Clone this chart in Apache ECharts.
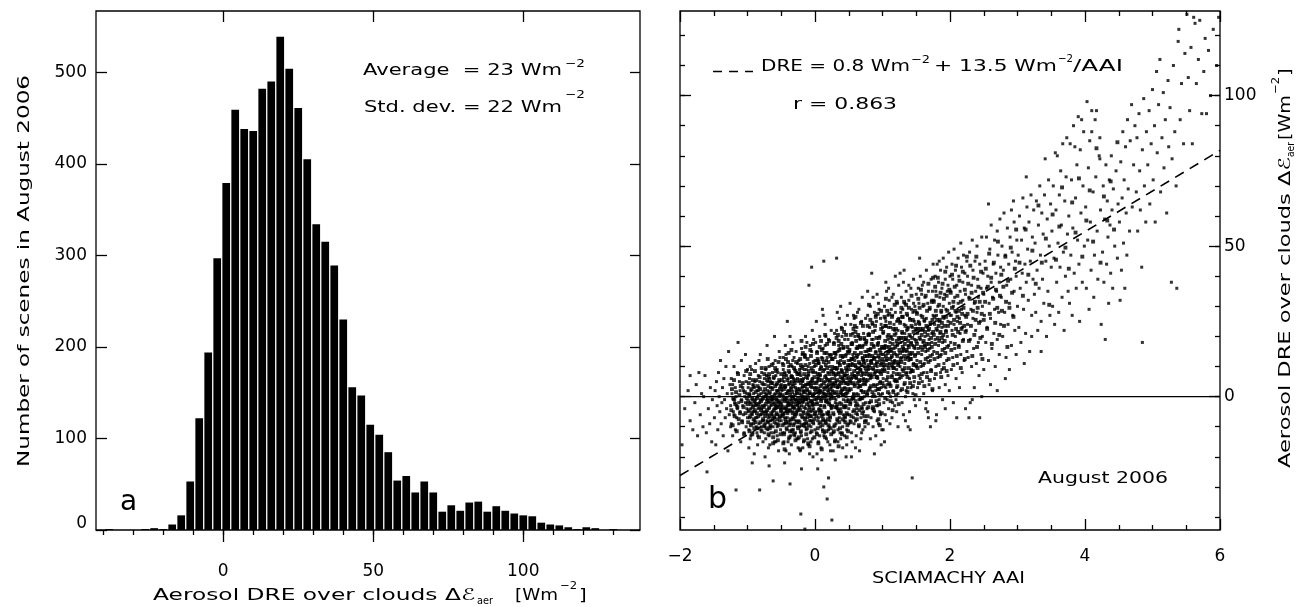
<!DOCTYPE html>
<html><head><meta charset="utf-8">
<script src="https://cdn.jsdelivr.net/npm/echarts@6.0.0/dist/echarts.min.js"></script>
<style>html,body{margin:0;padding:0;background:#fff}#c{width:1297px;height:607px}</style>
</head><body><div id="c"></div>
<script>
// ---------------- DATA ----------------
const histBinCenters = [-38,-35,-32,-29,-26,-23,-20,-17,-14,-11,-8,-5,-2,1,4,7,10,13,16,19,22,25,28,31,34,37,40,43,46,49,52,55,58,61,64,67,70,73,76,79,82,85,88,91,94,97,100,103,106,109,112,115,118,121,124,127,130];
const histCounts = [1,0,0,0,1,2,1,6,16,53,122,194,297,379,459,438,436,482,490,539,504,461,405,334,315,289,230,156,147,115,104,85,54,59,41,53,41,20,27,21,30,31,20,26,21,18,16,15,8,6,5,3,1,3,2,0,1];
const histBinWidth = 3;
const histXMajorTicks = [0,50,100];
const histXMinorTicks = [-40,-30,-20,-10,0,10,20,30,40,50,60,70,80,90,100,110,120,130];
const histYTicks = [0,100,200,300,400,500];
const scatXTicks = [-2,0,2,4,6];
const scatYMajorTicks = [0,50,100];
const scatYMinorTicks = [-40,-30,-20,-10,0,10,20,30,40,50,60,70,80,90,100,110,120];
const fitLine = [[-2,-26.2],[6,81.8]];
const zeroLine = [[-2,0],[6,0]];

const scatA = [
[-1.97,-16],[-1.93,-4],[-1.88,2],[-1.85,7],[-1.85,-8],[-1.81,-11],[-1.78,-2],[-1.76,4],
[-1.74,-13],[-1.72,8],[-1.7,-6],[-1.68,1],[-1.66,-10],[-1.65,0],[-1.63,7],[-1.61,-12],[-1.6,-25],[-1.58,-4],[-1.56,-9],[-1.55,3],[-1.53,-15],[-1.52,-1],
[-1.49,-7],[-1.48,2],[-1.47,-16],[-1.46,5],[-1.45,-3],[-1.44,-11],[-1.43,8],[-1.42,0],[-1.41,-5],[-1.4,12],[-1.39,-9],[-1.38,-2],[-1.37,3],[-1.36,-13],[-1.35,6],[-1.34,-1],[-1.33,-7],[-1.32,10],[-1.31,-4],[-1.3,1],[-1.29,-18],[-1.28,15],[-1.27,-6],[-1.26,4],[-1.25,-10],
[-1.25,-3],[-1.24,6],[-1.24,-9],[-1.23,1],[-1.22,-13],[-1.22,4],[-1.21,-1],[-1.2,-6],[-1.2,10],[-1.19,-2],[-1.18,-11],[-1.18,3],[-1.17,-31],[-1.17,0],[-1.16,-7],[-1.15,8],[-1.15,-4],[-1.14,18],[-1.13,-2],[-1.13,-9],[-1.12,5],[-1.11,-5],[-1.11,2],[-1.1,-15],[-1.09,-1],[-1.09,12],[-1.08,-8],[-1.07,-3],[-1.07,3],[-1.06,-6],[-1.05,7],[-1.05,-12],[-1.04,0],[-1.03,-2],[-1.03,14],[-1.02,-10],[-1.02,5],[-1.01,-4],[-1.01,1],[-1.0,-7],[-1.0,9],[-1.06,2],[-1.16,-3],[-1.19,-1],[-1.21,-5],
[-0.99,-5],[-0.99,3],[-0.98,-11],[-0.98,0],[-0.97,-7],[-0.97,6],[-0.96,-2],[-0.96,-14],[-0.95,2],[-0.95,-4],[-0.94,-9],[-0.94,9],[-0.93,-1],[-0.93,-6],[-0.92,4],[-0.92,-12],[-0.91,-3],[-0.91,1],[-0.9,-8],[-0.9,-19],[-0.89,5],[-0.89,-5],[-0.88,-1],[-0.88,11],[-0.87,-10],[-0.87,-3],[-0.86,2],[-0.86,-7],[-0.85,-13],[-0.85,0],[-0.84,7],[-0.84,-4],[-0.83,-9],[-0.83,3],[-0.82,-2],[-0.82,-31],[-0.81,-6],[-0.81,14],[-0.8,-11],[-0.8,1],[-0.79,-4],[-0.79,8],[-0.78,-8],[-0.78,-1],[-0.77,4],[-0.77,-15],[-0.76,-5],[-0.76,0],[-0.75,-10],[-0.75,6],[-0.98,-17],[-0.96,10],[-0.93,-22],[-0.91,-9],[-0.89,-2],[-0.86,-12],[-0.84,2],[-0.82,5],[-0.8,-6],[-0.78,-3],[-0.76,-8],[-0.97,1],[-0.95,-13],[-0.92,-5],[-0.9,3],[-0.88,-7],[-0.85,-16],[-0.83,12],[-0.81,-1],[-0.79,-10],
[-0.75,-3],[-0.74,4],[-0.74,-9],[-0.73,0],[-0.73,-14],[-0.72,7],[-0.72,-5],[-0.71,-1],[-0.71,17],[-0.7,-11],[-0.7,2],[-0.69,-7],[-0.69,-2],[-0.68,10],[-0.68,-4],[-0.67,-16],[-0.67,1],[-0.66,-8],[-0.66,5],[-0.65,-3],[-0.65,-12],[-0.64,3],[-0.64,-6],[-0.63,8],[-0.63,0],[-0.62,-10],[-0.62,-28],[-0.61,-2],[-0.61,6],[-0.6,-7],[-0.6,-15],[-0.59,1],[-0.59,12],[-0.58,-4],[-0.58,-9],[-0.57,4],[-0.57,-1],[-0.56,-13],[-0.56,9],[-0.55,-6],[-0.55,2],[-0.54,-3],[-0.54,-18],[-0.53,5],[-0.53,-8],[-0.52,0],[-0.52,13],[-0.51,-11],[-0.51,-5],[-0.5,3],[-0.5,-2],[-0.74,-20],[-0.72,1],[-0.7,-6],[-0.68,-13],[-0.66,3],[-0.64,-1],[-0.62,11],[-0.6,-4],[-0.58,7],[-0.56,-10],[-0.54,-2],[-0.52,-7],[-0.73,9],[-0.71,-8],[-0.69,-17],[-0.67,6],[-0.65,0],[-0.63,-5],[-0.61,-12],[-0.59,-3],[-0.57,2],[-0.55,-9],[-0.53,15],[-0.51,1],[-0.75,-12],[-0.7,5],[-0.66,-10],[-0.62,-1],[-0.58,-15],[-0.55,8],[-0.51,-4],[-0.68,-23],[-0.6,20],[-0.57,-6]
];
const scatB = [
[-0.5,-8],[-0.49,2],[-0.49,-3],[-0.48,11],[-0.48,-12],[-0.47,0],[-0.47,-6],[-0.46,5],[-0.46,-15],[-0.45,-1],[-0.45,8],[-0.44,-9],[-0.44,3],[-0.43,-4],[-0.43,14],[-0.42,-11],[-0.42,1],[-0.41,25],[-0.41,-7],[-0.4,6],[-0.4,-2],[-0.39,-14],[-0.39,10],[-0.38,-5],[-0.38,2],[-0.37,20],[-0.37,-29],[-0.36,-1],[-0.36,-9],[-0.35,7],[-0.35,-16],[-0.34,4],[-0.34,-3],[-0.33,12],[-0.33,-7],[-0.32,0],[-0.32,-11],[-0.31,5],[-0.31,-4],[-0.3,9],[-0.3,-13],[-0.29,-1],[-0.29,3],[-0.28,-8],[-0.28,15],[-0.27,-5],[-0.27,1],[-0.26,-10],[-0.26,6],[-0.25,-2],[-0.25,-17],[-0.49,-6],[-0.47,9],[-0.45,-12],[-0.43,1],[-0.41,-3],[-0.39,4],[-0.37,-8],[-0.35,0],[-0.33,-5],[-0.31,13],[-0.29,-12],[-0.27,8],[-0.48,-1],[-0.46,-9],[-0.44,17],[-0.42,-5],[-0.4,-15],[-0.38,8],[-0.36,3],[-0.34,-11],[-0.32,6],[-0.3,-6],[-0.28,2],[-0.26,-3],[-0.5,4],[-0.46,-4],[-0.42,7],[-0.38,-19],[-0.34,10],[-0.3,-1],[-0.26,11],[-0.44,-7],[-0.4,2],[-0.36,-13],[-0.32,-2],[-0.28,-6],[-0.47,13],[-0.43,-18],[-0.39,-3],[-0.35,5],[-0.31,-9],[-0.27,-14],[-0.45,-22],[-0.33,18],
[-0.25,5],[-0.24,-4],[-0.24,12],[-0.23,-10],[-0.23,1],[-0.22,-6],[-0.22,8],[-0.21,-39],[-0.21,-1],[-0.2,16],[-0.2,-13],[-0.19,3],[-0.19,-7],[-0.18,10],[-0.18,-2],[-0.17,-15],[-0.17,6],[-0.16,0],[-0.16,-9],[-0.15,-44],[-0.15,14],[-0.14,-4],[-0.14,4],[-0.13,-11],[-0.13,9],[-0.12,-1],[-0.12,18],[-0.11,-7],[-0.11,2],[-0.1,-16],[-0.1,7],[-0.09,-3],[-0.09,37],[-0.08,11],[-0.08,-8],[-0.07,1],[-0.07,-12],[-0.06,5],[-0.06,-5],[-0.05,43],[-0.05,15],[-0.04,-2],[-0.04,-14],[-0.03,8],[-0.03,0],[-0.02,-9],[-0.02,19],[-0.01,3],[-0.01,-6],[0,12],[0,-11],[-0.24,-8],[-0.22,2],[-0.2,-3],[-0.18,-17],[-0.16,9],[-0.14,-7],[-0.12,4],[-0.1,-2],[-0.08,1],[-0.06,-10],[-0.04,6],[-0.02,-4],[-0.23,9],[-0.21,-12],[-0.19,0],[-0.17,-5],[-0.15,13],[-0.13,-1],[-0.11,-14],[-0.09,4],[-0.07,17],[-0.05,-8],[-0.03,-3],[-0.01,10],[-0.25,-14],[-0.21,7],[-0.17,2],[-0.13,-9],[-0.09,-6],[-0.05,3],[-0.01,-1],[-0.22,-18],[-0.18,5],[-0.14,20],[-0.1,10],[-0.06,-15],[-0.02,1],[-0.2,-24],[-0.16,-1],[-0.12,-6],[-0.08,-19],[-0.04,22],[-0.23,-2],[-0.19,14],[-0.11,6],[-0.07,-8],[-0.03,-20],[-0.15,-10],
[0.01,-5],[0.01,8],[0.02,-12],[0.02,3],[0.03,15],[0.03,-2],[0.04,-8],[0.04,6],[0.05,-15],[0.05,0],[0.06,11],[0.06,-4],[0.07,20],[0.07,2],[0.08,-10],[0.08,7],[0.09,-1],[0.09,-17],[0.1,13],[0.1,4],[0.11,29],[0.11,-6],[0.12,27],[0.12,1],[0.13,45],[0.13,-30],[0.13,-13],[0.14,9],[0.14,-3],[0.15,17],[0.15,5],[0.16,-9],[0.16,0],[0.17,12],[0.17,-14],[0.18,-34],[0.18,3],[0.19,-6],[0.19,8],[0.2,-11],[0.2,19],[0.21,-2],[0.21,5],[0.22,-16],[0.22,10],[0.23,1],[0.23,-7],[0.24,14],[0.24,-4],[0.25,-41],[0.25,6],[0.02,-1],[0.04,12],[0.06,-9],[0.08,2],[0.1,-5],[0.12,16],[0.14,-12],[0.16,7],[0.18,-2],[0.2,4],[0.22,-8],[0.24,22],[0.03,5],[0.05,-7],[0.07,-13],[0.09,10],[0.11,0],[0.13,3],[0.15,-8],[0.17,6],[0.19,-15],[0.21,14],[0.23,-3],[0.25,9],[0.01,18],[0.05,11],[0.09,-3],[0.13,-6],[0.17,-1],[0.21,-10],[0.25,0],[0.03,-19],[0.07,9],[0.11,-11],[0.15,24],[0.19,2],[0.23,-18],[0.04,-24],[0.08,-3],[0.12,-8],[0.16,20],[0.2,-5],[0.24,3],[0.06,1],[0.1,-21],[0.14,1],[0.18,13],[0.22,-1],[0.02,25],[0.2,-27],
[0.26,-3],[0.26,10],[0.27,-12],[0.27,4],[0.28,18],[0.28,-6],[0.29,1],[0.29,-15],[0.3,13],[0.3,7],[0.31,-1],[0.31,-9],[0.32,46],[0.32,22],[0.33,3],[0.33,-4],[0.34,15],[0.34,-11],[0.35,8],[0.35,0],[0.36,-7],[0.36,26],[0.37,5],[0.37,-2],[0.38,12],[0.38,-14],[0.39,9],[0.39,-5],[0.4,20],[0.4,2],[0.41,-10],[0.41,6],[0.42,16],[0.42,-1],[0.43,-8],[0.43,11],[0.44,3],[0.44,-13],[0.45,24],[0.45,7],[0.46,-3],[0.46,14],[0.47,-16],[0.47,1],[0.48,9],[0.48,-6],[0.49,19],[0.49,4],[0.5,-9],[0.5,10],[0.27,8],[0.29,21],[0.31,5],[0.33,-8],[0.35,17],[0.37,-12],[0.39,1],[0.41,13],[0.43,-3],[0.45,-7],[0.47,6],[0.49,-1],[0.26,2],[0.28,-10],[0.3,-2],[0.32,9],[0.34,3],[0.36,11],[0.38,-4],[0.4,-12],[0.42,5],[0.44,19],[0.46,0],[0.48,15],[0.5,-4],[0.27,-18],[0.31,14],[0.35,-5],[0.39,23],[0.43,7],[0.47,-11],[0.29,6],[0.33,28],[0.37,16],[0.41,-17],[0.45,1],[0.49,12],[0.3,-21],[0.36,4],[0.42,-6],[0.48,27],[0.34,-15],[0.4,8],[0.46,-20],[0.38,30]
];
const scatC = [
[0.51,2],[0.51,15],[0.52,-8],[0.52,9],[0.53,24],[0.53,-2],[0.54,6],[0.54,-12],[0.55,18],[0.55,11],[0.56,0],[0.56,-5],[0.57,27],[0.57,13],[0.58,4],[0.58,-9],[0.59,20],[0.59,7],[0.6,-3],[0.6,10],[0.61,-13],[0.61,16],[0.62,1],[0.62,23],[0.63,8],[0.63,-6],[0.64,14],[0.64,3],[0.65,-10],[0.65,29],[0.66,11],[0.66,5],[0.67,-1],[0.67,19],[0.68,-7],[0.68,9],[0.69,25],[0.69,2],[0.7,-4],[0.7,13],[0.71,17],[0.71,-11],[0.72,6],[0.72,21],[0.73,0],[0.73,10],[0.74,-8],[0.74,15],[0.75,4],[0.75,26],[0.52,12],[0.54,-1],[0.56,21],[0.58,7],[0.6,-8],[0.62,13],[0.64,-3],[0.66,17],[0.68,2],[0.7,8],[0.72,-5],[0.74,11],[0.51,-6],[0.53,5],[0.55,-15],[0.57,1],[0.59,12],[0.61,6],[0.63,28],[0.65,-1],[0.67,9],[0.69,-12],[0.71,4],[0.73,19],[0.75,-2],[0.52,31],[0.56,14],[0.6,-17],[0.64,20],[0.68,-14],[0.72,12],[0.54,-20],[0.58,26],[0.62,-4],[0.66,-18],[0.7,33],[0.74,-10],[0.57,-7],[0.63,16],[0.69,7],
[0.76,5],[0.76,18],[0.77,-4],[0.77,12],[0.78,27],[0.78,1],[0.79,9],[0.79,-9],[0.8,21],[0.8,14],[0.81,3],[0.81,-2],[0.82,30],[0.82,16],[0.83,7],[0.83,-7],[0.84,41],[0.84,11],[0.85,24],[0.85,0],[0.86,-10],[0.86,19],[0.87,4],[0.87,13],[0.88,28],[0.88,-5],[0.89,8],[0.89,22],[0.9,15],[0.9,2],[0.91,-3],[0.91,25],[0.92,10],[0.92,-8],[0.93,17],[0.93,6],[0.94,31],[0.94,1],[0.95,13],[0.95,-1],[0.96,20],[0.96,8],[0.97,-6],[0.97,26],[0.98,11],[0.98,3],[0.99,16],[0.99,-11],[1.0,23],[1.0,9],[0.77,15],[0.79,2],[0.81,23],[0.83,12],[0.85,-4],[0.87,17],[0.89,0],[0.91,11],[0.93,-3],[0.95,29],[0.97,5],[0.99,14],[0.76,-8],[0.78,10],[0.8,-2],[0.82,6],[0.84,19],[0.86,33],[0.88,13],[0.9,-13],[0.92,4],[0.94,18],[0.96,-5],[0.98,24],[1.0,1],[0.78,35],[0.82,-14],[0.86,9],[0.9,27],[0.94,-9],[0.98,-16],[0.8,7],[0.88,-19],[0.92,34],[0.96,12],
[1.01,6],[1.01,21],[1.02,-2],[1.02,14],[1.03,30],[1.03,9],[1.04,-6],[1.04,17],[1.05,25],[1.05,3],[1.06,12],[1.06,35],[1.07,-1],[1.07,20],[1.08,8],[1.08,27],[1.09,15],[1.09,-4],[1.1,11],[1.1,32],[1.11,4],[1.11,18],[1.12,23],[1.12,0],[1.13,13],[1.13,29],[1.14,7],[1.14,-7],[1.15,19],[1.15,10],[1.16,34],[1.16,2],[1.17,16],[1.17,24],[1.18,-3],[1.18,12],[1.19,28],[1.19,5],[1.2,21],[1.2,14],[1.21,-5],[1.21,9],[1.22,31],[1.22,17],[1.23,1],[1.23,22],[1.24,11],[1.24,37],[1.25,6],[1.25,19],[1.02,10],[1.04,26],[1.06,-8],[1.08,19],[1.1,1],[1.12,15],[1.14,33],[1.16,8],[1.18,22],[1.2,-1],[1.22,5],[1.24,26],[1.01,-11],[1.03,16],[1.05,38],[1.07,4],[1.09,23],[1.11,-9],[1.13,20],[1.15,-2],[1.17,11],[1.19,40],[1.21,25],[1.23,-10],[1.03,-15],[1.09,36],[1.15,27],[1.21,3],
[1.26,10],[1.26,25],[1.27,2],[1.27,18],[1.28,33],[1.28,13],[1.29,-2],[1.29,21],[1.3,29],[1.3,7],[1.31,16],[1.31,38],[1.32,4],[1.32,24],[1.33,11],[1.33,31],[1.34,19],[1.34,0],[1.35,15],[1.35,35],[1.36,8],[1.36,22],[1.37,27],[1.37,3],[1.38,-10],[1.38,17],[1.39,32],[1.39,12],[1.4,6],[1.4,26],[1.41,-11],[1.41,20],[1.42,36],[1.42,14],[1.43,9],[1.43,29],[1.44,-27],[1.44,23],[1.45,1],[1.45,17],[1.46,39],[1.46,11],[1.47,25],[1.47,5],[1.48,30],[1.48,19],[1.49,-3],[1.49,14],[1.5,34],[1.5,22],[1.27,28],[1.29,9],[1.31,-6],[1.33,21],[1.35,2],[1.37,13],[1.39,37],[1.41,8],[1.43,18],[1.45,28],[1.47,-1],[1.49,24],[1.26,41],[1.3,15],[1.34,-8],[1.38,23],[1.42,3],[1.46,31],[1.5,10],[1.32,42],[1.4,-5],[1.48,16]
];
const scatD = [
[1.51,12],[1.51,28],[1.52,3],[1.52,21],[1.53,36],[1.53,16],[1.54,7],[1.54,31],[1.55,24],[1.55,-1],[1.56,19],[1.56,40],[1.57,10],[1.57,27],[1.58,14],[1.58,34],[1.59,22],[1.59,5],[1.6,30],[1.6,18],[1.61,1],[1.61,38],[1.62,25],[1.62,11],[1.63,33],[1.63,20],[1.64,-4],[1.64,15],[1.65,42],[1.65,26],[1.66,8],[1.66,23],[1.67,31],[1.67,13],[1.68,-7],[1.68,35],[1.69,19],[1.69,4],[1.7,29],[1.7,16],[1.71,-10],[1.71,24],[1.72,39],[1.72,9],[1.73,21],[1.73,32],[1.74,14],[1.74,2],[1.75,27],[1.75,44],[1.53,25],[1.56,6],[1.59,37],[1.62,17],[1.65,-2],[1.68,22],[1.71,12],[1.74,35],[1.55,46],[1.61,8],[1.67,-5],[1.73,18],
[1.76,15],[1.76,32],[1.77,6],[1.77,24],[1.78,40],[1.78,19],[1.79,10],[1.79,35],[1.8,27],[1.8,-6],[1.81,22],[1.81,44],[1.82,13],[1.82,30],[1.83,17],[1.83,38],[1.84,25],[1.84,3],[1.85,33],[1.85,21],[1.86,8],[1.86,42],[1.87,28],[1.87,14],[1.88,36],[1.88,23],[1.89,-1],[1.89,18],[1.9,46],[1.9,30],[1.91,11],[1.91,26],[1.92,34],[1.92,16],[1.93,4],[1.93,39],[1.94,22],[1.94,29],[1.95,12],[1.95,43],[1.96,20],[1.96,35],[1.97,7],[1.97,25],[1.98,48],[1.98,17],[1.99,31],[1.99,2],[2.0,27],[2.0,40],[1.79,-8],[1.84,45],[1.88,9],[1.93,-4],[1.97,37],
[2.01,18],[2.01,35],[2.02,9],[2.02,27],[2.03,44],[2.03,22],[2.04,13],[2.04,39],[2.05,-2],[2.05,30],[2.06,24],[2.06,49],[2.07,16],[2.07,33],[2.08,20],[2.08,42],[2.09,28],[2.09,6],[2.1,-7],[2.1,37],[2.11,25],[2.11,11],[2.12,46],[2.12,31],[2.13,17],[2.13,40],[2.14,26],[2.14,3],[2.15,35],[2.15,21],[2.16,51],[2.16,14],[2.17,29],[2.17,43],[2.18,8],[2.18,23],[2.19,38],[2.19,32],[2.2,19],[2.2,47],[2.21,12],[2.22,27],[2.22,41],[2.23,-4],[2.23,34],[2.24,22],[2.25,15],[2.25,45],
[2.26,24],[2.26,40],[2.27,13],[2.28,33],[2.28,-7],[2.29,48],[2.3,19],[2.3,-2],[2.31,29],[2.32,37],[2.32,10],[2.33,52],[2.34,26],[2.34,42],[2.35,16],[2.36,31],[2.36,3],[2.37,45],[2.38,22],[2.38,35],[2.39,11],[2.4,28],[2.4,50],[2.41,39],[2.42,18],[2.42,33],[2.43,7],[2.44,-7],[2.44,44],[2.45,25],[2.46,36],[2.46,14],[2.47,53],[2.48,30],[2.48,20],[2.49,41],[2.5,9],[2.5,34],[2.33,-1],[2.47,0],
[2.51,27],[2.52,45],[2.53,18],[2.54,36],[2.54,53],[2.55,23],[2.56,40],[2.57,64],[2.57,12],[2.58,31],[2.59,49],[2.6,26],[2.61,38],[2.61,57],[2.62,16],[2.63,33],[2.64,44],[2.65,21],[2.66,52],[2.66,29],[2.67,10],[2.68,41],[2.69,35],[2.7,55],[2.7,19],[2.71,47],[2.72,28],[2.73,38],[2.73,14],[2.74,59],[2.75,24],[2.75,43],[2.6,4],[2.7,2],
[2.76,33],[2.77,50],[2.78,20],[2.79,42],[2.8,61],[2.81,28],[2.82,47],[2.83,13],[2.84,37],[2.85,56],[2.86,24],[2.87,44],[2.88,9],[2.88,31],[2.89,53],[2.9,39],[2.91,17],[2.92,48],[2.93,27],[2.94,65],[2.95,35],[2.95,58],[2.96,22],[2.97,45],[2.98,14],[2.98,40],[2.99,52],[3.0,30],[2.82,6],[2.91,62]
];
const scatE = [
[3.01,47],[3.02,23],[3.03,60],[3.04,36],[3.05,18],[3.06,52],[3.07,41],[3.08,66],[3.09,29],[3.1,56],[3.11,44],[3.12,21],[3.13,73],[3.13,38],[3.14,63],[3.15,49],[3.16,32],[3.17,58],[3.18,15],[3.19,45],[3.2,67],[3.21,27],[3.22,53],[3.23,39],[3.24,62],[3.25,34],[3.1,11],[3.21,20],
[3.26,51],[3.27,28],[3.28,65],[3.29,42],[3.3,22],[3.31,57],[3.32,36],[3.33,70],[3.34,47],[3.35,25],[3.36,61],[3.37,39],[3.38,54],[3.39,31],[3.4,67],[3.41,79],[3.42,45],[3.43,20],[3.44,59],[3.45,35],[3.46,72],[3.47,50],[3.48,27],[3.49,64],[3.5,43],[3.35,15],
[3.51,55],[3.52,30],[3.53,70],[3.54,46],[3.55,24],[3.56,81],[3.57,62],[3.58,38],[3.59,80],[3.6,51],[3.61,28],[3.62,67],[3.63,43],[3.64,75],[3.65,57],[3.66,33],[3.67,84],[3.68,48],[3.69,22],[3.7,65],[3.71,40],[3.72,73],[3.73,86],[3.74,54],[3.75,35],
[3.76,60],[3.77,31],[3.78,84],[3.79,47],[3.8,72],[3.81,27],[3.82,56],[3.83,90],[3.84,41],[3.85,83],[3.86,66],[3.87,36],[3.88,77],[3.89,52],[3.9,93],[3.91,44],[3.92,25],[3.93,82],[3.94,61],[3.95,92],[3.96,38],[3.97,70],[3.98,88],[3.99,50],
[4.01,63],[4.02,36],[4.03,98],[4.04,52],[4.05,76],[4.06,29],[4.07,85],[4.08,58],[4.09,42],[4.1,95],[4.1,88],[4.12,68],[4.13,33],[4.14,47],[4.15,92],[4.16,73],[4.17,95],[4.18,55],[4.19,39],[4.21,80],[4.22,86],[4.23,62],[4.24,24],[4.22,79],
[4.26,48],[4.27,70],[4.28,38],[4.29,59],[4.3,19],[4.31,77],[4.32,44],[4.33,65],[4.34,53],[4.35,31],[4.36,72],[4.37,57],[4.38,41],[4.39,80],[4.4,62],[4.41,36],[4.42,69],[4.44,50],[4.46,75],[4.48,46],[4.49,64],
[4.51,58],[4.52,32],[4.53,78],[4.54,42],[4.55,66],[4.56,88],[4.57,51],[4.58,72],[4.59,36],[4.6,83],[4.61,61],[4.62,47],[4.63,92],[4.64,69],[4.66,55],[4.67,85],[4.69,97],[4.7,63],[4.72,77],[4.74,90],
[4.76,68],[4.77,86],[4.78,55],[4.8,94],[4.81,75],[4.82,62],[4.84,43],[4.85,18],[4.85,82],[4.87,99],[4.88,70],[4.9,58],[4.91,88],[4.93,77],[4.95,95],[4.96,64],[4.98,84],[5.0,102],
[5.01,72],[5.03,90],[5.04,58],[5.06,108],[5.07,81],[5.09,97],[5.11,112],[5.12,68],[5.14,86],[5.16,101],[5.17,76],[5.19,92],[5.21,61],[5.23,105],[5.24,83],
[5.26,96],[5.28,38],[5.29,79],[5.31,110],[5.33,88],[5.35,70],[5.36,36],[5.38,118],[5.39,122],[5.41,92],[5.43,104],[5.46,84],[5.48,114],
[5.51,127],[5.53,106],[5.55,95],[5.57,116],[5.59,84],[5.61,126],[5.63,124],[5.65,104],[5.68,112],[5.7,125],[5.73,94],
[5.76,108],[5.78,119],[5.8,94],[5.83,115],[5.86,100],[5.9,122],[5.95,110],[5.98,126]
];
// additional points of the dense core (AAI -1.25 .. 0.75)
const scatF = [
[-1.24,-4.5],[-1.23,2.5],[-1.22,-9.5],[-1.21,-0.5],[-1.2,5.5],[-1.19,-6.5],[-1.18,-2.5],[-1.17,1.5],[-1.16,-11.5],[-1.15,-3.5],[-1.14,7.5],[-1.13,-7.5],[-1.12,0.5],[-1.11,-5.5],[-1.1,3.5],[-1.09,-1.5],[-1.08,-8.5],[-1.07,4.5],[-1.06,-3.5],[-1.05,-12.5],[-1.04,1.5],[-1.03,-5.5],[-1.02,8.5],[-1.01,-0.5],[-1.0,-2.5],
[-0.99,-1.5],[-0.99,-8.5],[-0.98,4.5],[-0.98,-4.5],[-0.97,-11.5],[-0.97,0.5],[-0.96,-6.5],[-0.96,7.5],[-0.95,-2.5],[-0.95,-9.5],[-0.94,2.5],[-0.94,-5.5],[-0.93,-0.5],[-0.93,-12.5],[-0.92,5.5],[-0.92,-3.5],[-0.91,-7.5],[-0.91,3.5],[-0.9,-1.5],[-0.9,-10.5],[-0.89,8.5],[-0.89,-4.5],[-0.88,-8.5],[-0.88,1.5],[-0.87,-2.5],[-0.87,5.5],[-0.86,-5.5],[-0.86,-0.5],[-0.85,-10.5],[-0.85,3.5],[-0.84,-6.5],[-0.84,-2.5],[-0.83,0.5],[-0.83,-13.5],[-0.82,6.5],[-0.82,-3.5],[-0.81,-8.5],[-0.81,2.5],[-0.8,-1.5],[-0.8,-4.5],[-0.79,9.5],[-0.79,-11.5],[-0.78,-5.5],[-0.78,4.5],[-0.77,-0.5],[-0.77,-7.5],[-0.76,1.5],[-0.76,-3.5],[-0.75,-9.5],[-0.75,7.5],
[-0.74,-6.5],[-0.74,2.5],[-0.73,-2.5],[-0.73,9.5],[-0.72,-10.5],[-0.72,0.5],[-0.71,-4.5],[-0.71,5.5],[-0.7,-8.5],[-0.7,-0.5],[-0.69,3.5],[-0.69,-12.5],[-0.68,-3.5],[-0.68,7.5],[-0.67,-6.5],[-0.67,1.5],[-0.66,-1.5],[-0.66,-9.5],[-0.65,4.5],[-0.65,-5.5],[-0.64,10.5],[-0.64,-2.5],[-0.63,-7.5],[-0.63,2.5],[-0.62,-0.5],[-0.62,-13.5],[-0.61,6.5],[-0.61,-4.5],[-0.6,0.5],[-0.6,-8.5],[-0.59,3.5],[-0.59,-2.5],[-0.58,-11.5],[-0.58,8.5],[-0.57,-5.5],[-0.57,-0.5],[-0.56,4.5],[-0.56,-7.5],[-0.55,1.5],[-0.55,-3.5],[-0.54,11.5],[-0.54,-9.5],[-0.53,-1.5],[-0.53,5.5],[-0.52,-6.5],[-0.52,2.5],[-0.51,-12.5],[-0.51,-2.5],[-0.5,7.5],[-0.5,-4.5],[-0.73,-5.5],[-0.71,-1.5],[-0.69,6.5],[-0.67,-10.5],[-0.65,-0.5],[-0.63,4.5],[-0.61,-6.5],[-0.59,9.5],[-0.57,-3.5],[-0.55,-14.5],[-0.53,0.5],[-0.51,3.5],[-0.7,12.5],[-0.62,-15.5],[-0.56,-1.5],
[-0.49,-3.5],[-0.49,5.5],[-0.48,-9.5],[-0.48,0.5],[-0.47,10.5],[-0.47,-5.5],[-0.46,2.5],[-0.46,-12.5],[-0.45,-1.5],[-0.45,7.5],[-0.44,-7.5],[-0.44,3.5],[-0.43,-3.5],[-0.43,12.5],[-0.42,-10.5],[-0.42,-0.5],[-0.41,5.5],[-0.41,-5.5],[-0.4,1.5],[-0.4,-8.5],[-0.39,8.5],[-0.39,-2.5],[-0.38,-13.5],[-0.38,4.5],[-0.37,-4.5],[-0.37,0.5],[-0.36,10.5],[-0.36,-7.5],[-0.35,2.5],[-0.35,-1.5],[-0.34,-11.5],[-0.34,6.5],[-0.33,-5.5],[-0.33,-0.5],[-0.32,3.5],[-0.32,-9.5],[-0.31,9.5],[-0.31,-3.5],[-0.3,0.5],[-0.3,-6.5],[-0.29,5.5],[-0.29,-14.5],[-0.28,-2.5],[-0.28,11.5],[-0.27,-8.5],[-0.27,1.5],[-0.26,-4.5],[-0.26,7.5],[-0.25,-0.5],[-0.25,-10.5],[-0.48,-6.5],[-0.46,6.5],[-0.44,-0.5],[-0.42,-4.5],[-0.4,11.5],[-0.38,-9.5],[-0.36,-2.5],[-0.34,1.5],[-0.32,-7.5],[-0.3,4.5],[-0.28,-5.5],[-0.26,2.5],[-0.47,-15.5],[-0.45,3.5],[-0.43,-8.5],[-0.41,-1.5],[-0.39,14.5],[-0.37,-11.5],[-0.35,6.5],[-0.33,-3.5],[-0.31,-12.5],[-0.29,8.5],[-0.27,-1.5],[-0.45,-17.5],[-0.35,15.5],
[-0.24,-1.5],[-0.24,7.5],[-0.23,-8.5],[-0.23,2.5],[-0.22,12.5],[-0.22,-4.5],[-0.21,4.5],[-0.21,-11.5],[-0.2,0.5],[-0.2,9.5],[-0.19,-6.5],[-0.19,5.5],[-0.18,-1.5],[-0.18,14.5],[-0.17,-9.5],[-0.17,1.5],[-0.16,7.5],[-0.16,-3.5],[-0.15,3.5],[-0.15,-7.5],[-0.14,10.5],[-0.14,-0.5],[-0.13,-12.5],[-0.13,6.5],[-0.12,-2.5],[-0.12,2.5],[-0.11,12.5],[-0.11,-5.5],[-0.1,4.5],[-0.1,-0.5],[-0.09,-9.5],[-0.09,8.5],[-0.08,-3.5],[-0.08,1.5],[-0.07,15.5],[-0.07,-6.5],[-0.06,3.5],[-0.06,-1.5],[-0.05,-11.5],[-0.05,9.5],[-0.04,-4.5],[-0.04,5.5],[-0.03,0.5],[-0.03,-8.5],[-0.02,11.5],[-0.02,-2.5],[-0.01,6.5],[-0.01,-13.5],[0.0,2.5],[0.0,-5.5],[-0.23,-3.5],[-0.21,10.5],[-0.19,-0.5],[-0.17,-5.5],[-0.15,13.5],[-0.13,-8.5],[-0.11,0.5],[-0.09,-4.5],[-0.07,4.5],[-0.05,-1.5],[-0.03,8.5],[-0.01,-7.5],[-0.24,-13.5],[-0.22,5.5],[-0.2,-9.5],[-0.18,3.5],[-0.16,-14.5],[-0.14,16.5],[-0.12,-10.5],[-0.1,7.5],[-0.08,-16.5],[-0.06,13.5],[-0.04,-2.5],[-0.02,4.5],[-0.2,18.5],[-0.1,-15.5],[-0.15,1.5],[-0.06,-6.5],[-0.22,-17.5],[-0.03,17.5],
[0.01,1.5],[0.01,10.5],[0.02,-6.5],[0.02,4.5],[0.03,14.5],[0.03,-2.5],[0.04,7.5],[0.04,-10.5],[0.05,2.5],[0.05,11.5],[0.06,-4.5],[0.06,5.5],[0.07,-0.5],[0.07,16.5],[0.08,-8.5],[0.08,3.5],[0.09,9.5],[0.09,-1.5],[0.1,5.5],[0.1,-6.5],[0.11,12.5],[0.11,1.5],[0.12,-11.5],[0.12,8.5],[0.13,-0.5],[0.13,4.5],[0.14,14.5],[0.14,-3.5],[0.15,6.5],[0.15,0.5],[0.16,-8.5],[0.16,10.5],[0.17,-1.5],[0.17,3.5],[0.18,17.5],[0.18,-5.5],[0.19,5.5],[0.19,0.5],[0.2,-9.5],[0.2,11.5],[0.21,-2.5],[0.21,7.5],[0.22,2.5],[0.22,-6.5],[0.23,13.5],[0.23,-0.5],[0.24,8.5],[0.24,-12.5],[0.25,4.5],[0.25,-3.5],[0.02,-0.5],[0.04,12.5],[0.06,1.5],[0.08,-4.5],[0.1,15.5],[0.12,-7.5],[0.14,2.5],[0.16,-1.5],[0.18,9.5],[0.2,-5.5],[0.22,5.5],[0.24,0.5],[0.03,-12.5],[0.05,6.5],[0.07,-5.5],[0.09,18.5],[0.11,-9.5],[0.13,11.5],[0.15,-13.5],[0.17,14.5],[0.19,-7.5],[0.21,18.5],[0.23,-10.5],[0.25,12.5],[0.05,-15.5],[0.15,20.5],[0.1,-17.5],[0.2,1.5],[0.07,7.5],[0.17,-11.5],
[0.26,3.5],[0.26,12.5],[0.27,-5.5],[0.27,7.5],[0.28,17.5],[0.28,-0.5],[0.29,9.5],[0.29,-9.5],[0.3,4.5],[0.3,14.5],[0.31,-3.5],[0.31,7.5],[0.32,1.5],[0.32,19.5],[0.33,-7.5],[0.33,5.5],[0.34,11.5],[0.34,0.5],[0.35,7.5],[0.35,-4.5],[0.36,15.5],[0.36,3.5],[0.37,-10.5],[0.37,10.5],[0.38,1.5],[0.38,6.5],[0.39,17.5],[0.39,-2.5],[0.4,8.5],[0.4,2.5],[0.41,-7.5],[0.41,13.5],[0.42,0.5],[0.42,5.5],[0.43,21.5],[0.43,-3.5],[0.44,7.5],[0.44,2.5],[0.45,-8.5],[0.45,13.5],[0.46,-1.5],[0.46,9.5],[0.47,4.5],[0.47,-5.5],[0.48,16.5],[0.48,1.5],[0.49,10.5],[0.49,-11.5],[0.5,6.5],[0.5,-1.5],[0.27,1.5],[0.29,14.5],[0.31,3.5],[0.33,-2.5],[0.35,18.5],[0.37,-5.5],[0.39,4.5],[0.41,0.5],[0.43,11.5],[0.45,-3.5],[0.47,8.5],[0.49,2.5],[0.28,-11.5],[0.3,9.5],[0.32,-3.5],[0.34,20.5],[0.36,-8.5],[0.38,13.5],[0.4,-12.5],[0.42,16.5],[0.44,-6.5],[0.46,20.5],[0.48,-9.5],[0.5,14.5],[0.3,-14.5],[0.4,22.5],[0.35,-16.5],[0.45,4.5],[0.33,9.5],[0.47,-13.5],
[0.51,5.5],[0.51,15.5],[0.52,-2.5],[0.52,10.5],[0.53,20.5],[0.53,2.5],[0.54,12.5],[0.54,-6.5],[0.55,7.5],[0.55,17.5],[0.56,-0.5],[0.56,10.5],[0.57,4.5],[0.57,22.5],[0.58,-4.5],[0.58,8.5],[0.59,14.5],[0.59,3.5],[0.6,10.5],[0.6,-1.5],[0.61,18.5],[0.61,6.5],[0.62,-7.5],[0.62,13.5],[0.63,4.5],[0.63,9.5],[0.64,20.5],[0.64,0.5],[0.65,11.5],[0.65,5.5],[0.66,-4.5],[0.66,16.5],[0.67,3.5],[0.67,8.5],[0.68,24.5],[0.68,-0.5],[0.69,10.5],[0.69,5.5],[0.7,-5.5],[0.7,16.5],[0.71,1.5],[0.71,12.5],[0.72,7.5],[0.72,-2.5],[0.73,19.5],[0.73,4.5],[0.74,13.5],[0.74,-8.5],[0.75,9.5],[0.75,1.5],[0.52,4.5],[0.54,17.5],[0.56,6.5],[0.58,0.5],[0.6,21.5],[0.62,-2.5],[0.64,7.5],[0.66,3.5],[0.68,14.5],[0.7,-0.5],[0.72,11.5],[0.74,5.5],[0.53,-8.5],[0.55,12.5],[0.57,-0.5],[0.59,23.5],[0.61,-5.5],[0.63,16.5],[0.65,-9.5],[0.67,19.5],[0.69,-3.5],[0.71,23.5],[0.73,-6.5],[0.75,17.5],[0.6,26.5]
];
// additional points of the dense core (AAI 0.75 .. 4.5)
const scatG = [
[0.76,8.5],[0.76,18.5],[0.77,0.5],[0.77,13.5],[0.78,23.5],[0.78,5.5],[0.79,15.5],[0.79,-3.5],[0.8,10.5],[0.8,20.5],[0.81,2.5],[0.81,13.5],[0.82,7.5],[0.82,25.5],[0.83,-1.5],[0.83,11.5],[0.84,17.5],[0.84,6.5],[0.85,13.5],[0.85,1.5],[0.86,21.5],[0.86,9.5],[0.87,-4.5],[0.87,16.5],[0.88,7.5],[0.88,12.5],[0.89,23.5],[0.89,3.5],[0.9,14.5],[0.9,8.5],[0.91,-1.5],[0.91,19.5],[0.92,6.5],[0.92,11.5],[0.93,27.5],[0.93,2.5],[0.94,13.5],[0.94,8.5],[0.95,-2.5],[0.95,19.5],[0.96,4.5],[0.96,15.5],[0.97,10.5],[0.97,0.5],[0.98,22.5],[0.98,7.5],[0.99,16.5],[0.99,-5.5],[1.0,12.5],[1.0,4.5],[0.77,7.5],[0.79,20.5],[0.81,9.5],[0.83,3.5],[0.85,24.5],[0.87,0.5],[0.89,10.5],[0.91,6.5],[0.93,17.5],[0.95,2.5],[0.97,14.5],[0.99,8.5],[0.78,-6.5],[0.82,15.5],[0.86,-3.5],[0.9,26.5],[0.94,-7.5],[0.98,28.5],[0.8,30.5],[0.96,-9.5],
[1.01,11.5],[1.01,21.5],[1.02,3.5],[1.02,16.5],[1.03,26.5],[1.03,8.5],[1.04,18.5],[1.04,-0.5],[1.05,13.5],[1.05,23.5],[1.06,5.5],[1.06,16.5],[1.07,10.5],[1.07,28.5],[1.08,1.5],[1.08,14.5],[1.09,20.5],[1.09,9.5],[1.1,16.5],[1.1,4.5],[1.11,24.5],[1.11,12.5],[1.12,-1.5],[1.12,19.5],[1.13,10.5],[1.13,15.5],[1.14,26.5],[1.14,6.5],[1.15,17.5],[1.15,11.5],[1.16,1.5],[1.16,22.5],[1.17,9.5],[1.17,14.5],[1.18,30.5],[1.18,5.5],[1.19,16.5],[1.19,11.5],[1.2,0.5],[1.2,22.5],[1.21,7.5],[1.21,18.5],[1.22,13.5],[1.22,3.5],[1.23,25.5],[1.23,10.5],[1.24,19.5],[1.24,-2.5],[1.25,15.5],[1.25,7.5],[1.02,10.5],[1.04,23.5],[1.06,12.5],[1.08,6.5],[1.1,27.5],[1.12,3.5],[1.14,13.5],[1.16,9.5],[1.18,20.5],[1.2,5.5],[1.22,17.5],[1.24,11.5],[1.05,32.5],[1.15,-4.5],[1.21,31.5],
[1.26,14.5],[1.26,24.5],[1.27,6.5],[1.27,19.5],[1.28,29.5],[1.28,11.5],[1.29,21.5],[1.29,2.5],[1.3,16.5],[1.3,26.5],[1.31,8.5],[1.31,19.5],[1.32,13.5],[1.32,31.5],[1.33,4.5],[1.33,17.5],[1.34,23.5],[1.34,12.5],[1.35,19.5],[1.35,7.5],[1.36,27.5],[1.36,15.5],[1.37,1.5],[1.37,22.5],[1.38,13.5],[1.38,18.5],[1.39,29.5],[1.39,9.5],[1.4,20.5],[1.4,14.5],[1.41,4.5],[1.41,25.5],[1.42,12.5],[1.42,17.5],[1.43,33.5],[1.43,8.5],[1.44,19.5],[1.44,14.5],[1.45,3.5],[1.45,25.5],[1.46,10.5],[1.46,21.5],[1.47,16.5],[1.47,6.5],[1.48,28.5],[1.48,13.5],[1.49,22.5],[1.49,0.5],[1.5,18.5],[1.5,10.5],[1.27,12.5],[1.29,26.5],[1.31,15.5],[1.33,9.5],[1.35,30.5],[1.37,6.5],[1.39,16.5],[1.41,12.5],[1.43,23.5],[1.45,8.5],
[1.51,17.5],[1.51,27.5],[1.52,9.5],[1.52,22.5],[1.53,32.5],[1.53,14.5],[1.54,24.5],[1.54,4.5],[1.55,19.5],[1.55,29.5],[1.56,11.5],[1.56,22.5],[1.57,16.5],[1.57,35.5],[1.58,7.5],[1.58,20.5],[1.59,26.5],[1.59,15.5],[1.6,22.5],[1.6,10.5],[1.61,30.5],[1.61,18.5],[1.62,3.5],[1.62,25.5],[1.63,16.5],[1.63,21.5],[1.64,33.5],[1.64,12.5],[1.65,23.5],[1.65,17.5],[1.66,6.5],[1.66,28.5],[1.67,15.5],[1.67,20.5],[1.68,37.5],[1.68,11.5],[1.69,22.5],[1.69,17.5],[1.7,5.5],[1.7,29.5],[1.71,13.5],[1.71,24.5],[1.72,19.5],[1.72,8.5],[1.73,31.5],[1.73,16.5],[1.74,25.5],[1.74,2.5],[1.75,21.5],[1.75,39.5],
[1.76,20.5],[1.76,31.5],[1.77,12.5],[1.77,26.5],[1.78,36.5],[1.78,17.5],[1.79,28.5],[1.79,7.5],[1.8,22.5],[1.8,33.5],[1.81,14.5],[1.81,25.5],[1.82,19.5],[1.82,39.5],[1.83,10.5],[1.83,23.5],[1.84,30.5],[1.84,18.5],[1.85,25.5],[1.85,13.5],[1.86,34.5],[1.86,21.5],[1.87,6.5],[1.87,28.5],[1.88,19.5],[1.88,24.5],[1.89,37.5],[1.89,15.5],[1.9,26.5],[1.9,20.5],[1.91,9.5],[1.91,32.5],[1.92,18.5],[1.92,23.5],[1.93,41.5],[1.93,14.5],[1.94,26.5],[1.94,21.5],[1.95,8.5],[1.95,33.5],[1.96,16.5],[1.96,28.5],[1.97,23.5],[1.98,12.5],[1.99,35.5],
[2.01,24.5],[2.01,34.5],[2.02,15.5],[2.03,29.5],[2.03,40.5],[2.04,20.5],[2.05,31.5],[2.05,10.5],[2.06,25.5],[2.07,36.5],[2.07,17.5],[2.08,28.5],[2.09,22.5],[2.09,43.5],[2.1,13.5],[2.11,26.5],[2.11,33.5],[2.12,21.5],[2.13,28.5],[2.13,16.5],[2.14,38.5],[2.15,24.5],[2.16,9.5],[2.16,31.5],[2.17,22.5],[2.18,27.5],[2.19,41.5],[2.19,18.5],[2.2,29.5],[2.21,23.5],[2.22,12.5],[2.22,35.5],[2.23,21.5],[2.24,26.5],[2.25,46.5],
[2.26,27.5],[2.27,37.5],[2.28,18.5],[2.29,32.5],[2.3,43.5],[2.31,23.5],[2.32,34.5],[2.33,13.5],[2.34,28.5],[2.35,39.5],[2.36,20.5],[2.37,31.5],[2.38,25.5],[2.39,46.5],[2.4,16.5],[2.41,29.5],[2.42,36.5],[2.43,24.5],[2.44,31.5],[2.45,19.5],[2.46,41.5],[2.47,27.5],[2.48,12.5],[2.49,34.5],[2.5,25.5],
[2.52,31.5],[2.53,42.5],[2.55,22.5],[2.56,36.5],[2.58,47.5],[2.59,27.5],[2.61,39.5],[2.62,17.5],[2.64,32.5],[2.65,44.5],[2.67,24.5],[2.68,35.5],[2.7,29.5],[2.71,51.5],[2.73,20.5],[2.74,33.5],[2.76,40.5],[2.77,28.5],[2.79,36.5],[2.8,23.5],[2.82,46.5],[2.83,31.5],[2.85,16.5],[2.86,38.5],[2.88,29.5],[2.9,49.5],[2.92,34.5],[2.94,26.5],[2.96,42.5],[2.98,55.5],
[3.03,44.5],[3.08,33.5],[3.12,55.5],[3.16,40.5],[3.22,48.5],[3.27,37.5],[3.31,63.5],[3.36,44.5],[3.42,52.5],[3.47,30.5],[3.52,60.5],[3.57,45.5],[3.62,56.5],[3.66,69.5],[3.71,49.5],[3.76,42.5],[3.81,64.5],[3.86,54.5],[3.91,72.5],[3.96,46.5],[4.02,58.5],[4.07,68.5],[4.12,51.5],[4.17,82.5],[4.23,44.5],[4.28,66.5],[4.33,58.5],[4.38,71.5],[4.43,55.5],[4.48,84.5]
];

// ---------------- LAYOUT / STYLE ----------------
const FONT = '"DejaVu Sans", "Noto Sans", sans-serif';
const BLACK = '#000';
const measureCtx = document.createElement('canvas').getContext('2d');
function textWidth(t, size) { measureCtx.font = size + 'px ' + FONT; return measureCtx.measureText(t).width; }

const textPieces = [
  {t:'Average  = 23 Wm', x:363, y:71, s:16.5, w:199},
  {t:'\u22122', x:565, y:64, s:11, w:20},
  {t:'Std. dev. = 22 Wm', x:364, y:108, s:16.5, w:198},
  {t:'\u22122', x:565, y:95, s:11, w:20},
  {t:'a', x:120, y:503, s:28, sx:1},
  {t:'Number of scenes in August 2006', x:24.5, y:467, s:16.5, w:392, rot:Math.PI/2},
  {t:'Aerosol DRE over clouds \u0394\u2130', x:153, y:596, s:16.5, w:322},
  {t:'aer', x:477, y:601, s:10.5, w:16},
  {t:'[Wm', x:515, y:596, s:16.5, w:43},
  {t:'\u22122', x:560, y:586, s:11, w:17},
  {t:']', x:579, y:596, s:16.5, sx:1.2},
  {t:'DRE = 0.8 Wm', x:761, y:67, s:16.5, w:149},
  {t:'\u22122', x:911, y:60, s:11, w:19},
  {t:'+ 13.5 Wm', x:934, y:67, s:16.5, w:123},
  {t:'\u22122', x:1058, y:59, s:11, w:15},
  {t:'/AAI', x:1073, y:67, s:16.5, w:50},
  {t:'r = 0.863', x:793, y:104.5, s:16.5, w:104},
  {t:'August 2006', x:1038, y:478.5, s:16.5, w:130},
  {t:'b', x:708, y:500, s:30, sx:1},
  {t:'SCIAMACHY AAI', x:872, y:578.5, s:16.5, w:153},
  {t:'Aerosol DRE over clouds \u0394\u2130', x:1286, y:468, s:16.5, w:311, rot:Math.PI/2},
  {t:'aer', x:1291, y:157, s:10.5, w:15, rot:Math.PI/2},
  {t:'[Wm', x:1286, y:140, s:16.5, w:45, rot:Math.PI/2},
  {t:'\u22122', x:1276, y:94, s:11, w:17, rot:Math.PI/2},
  {t:']', x:1286, y:76, s:16.5, sx:1.2, rot:Math.PI/2}
];
const graphics = textPieces.map(p => ({
  type:'text', x:p.x, y:p.y, rotation:p.rot || 0,
  scaleX: p.w ? p.w / textWidth(p.t, p.s) : p.sx, scaleY:1,
  style:{text:p.t, fontSize:p.s, fontFamily:FONT, fill:BLACK, align:'left', verticalAlign:'middle'},
  silent:true, z:100
}));
graphics.push({type:'line', shape:{x1:713, y1:71.5, x2:753, y2:71.5},
  style:{stroke:BLACK, lineWidth:1.7, lineDash:[9,7]}, silent:true, z:100});

const tickStyle = {color:BLACK, width:1.3};
const labelStyle = {color:BLACK, fontSize:17, fontFamily:FONT};
const noLine = {show:false, onZero:false};
const hidden = {show:false};
function minusFmt(v){ return v < 0 ? '\u2212' + Math.abs(v) : String(v); }

const xHist = {min:-42.4, max:138.9};
const yHist = {min:0, max:567};
const xScat = {min:-2, max:6};
const yScat = {min:-44.3, max:128.1};

const option = {
  animation:false,
  backgroundColor:'#fff',
  grid:[
    {left:96, top:11, width:544, height:519, show:true, borderColor:BLACK, borderWidth:1.3, backgroundColor:'transparent'},
    {left:680, top:11, width:540, height:519, show:true, borderColor:BLACK, borderWidth:1.3, backgroundColor:'transparent'}
  ],
  xAxis:[
    {gridIndex:0, type:'value', position:'bottom', ...xHist, axisLine:noLine, splitLine:hidden,
      axisTick:{show:true, inside:false, length:12, customValues:histXMajorTicks, lineStyle:tickStyle},
      axisLabel:{...labelStyle, margin:33, customValues:histXMajorTicks}},
    {gridIndex:0, type:'value', position:'bottom', ...xHist, axisLine:noLine, splitLine:hidden, axisLabel:hidden,
      axisTick:{show:true, inside:false, length:5, customValues:histXMinorTicks, lineStyle:tickStyle}},
    {gridIndex:0, type:'value', position:'top', ...xHist, axisLine:noLine, splitLine:hidden, axisLabel:hidden,
      axisTick:{show:true, inside:true, length:11, customValues:histXMajorTicks, lineStyle:tickStyle}},
    {gridIndex:1, type:'value', position:'bottom', ...xScat, interval:2, axisLine:noLine, splitLine:hidden,
      axisTick:{show:true, inside:true, length:11, lineStyle:tickStyle},
      minorTick:{show:true, splitNumber:4, length:5, lineStyle:tickStyle},
      axisLabel:{...labelStyle, margin:18, formatter:minusFmt, customValues:scatXTicks}},
    {gridIndex:1, type:'value', position:'top', ...xScat, interval:2, axisLine:noLine, splitLine:hidden, axisLabel:hidden,
      axisTick:{show:true, inside:true, length:11, lineStyle:tickStyle},
      minorTick:{show:true, splitNumber:4, length:5, lineStyle:tickStyle}}
  ],
  yAxis:[
    {gridIndex:0, type:'value', position:'left', ...yHist, axisLine:noLine, splitLine:hidden,
      axisTick:{show:true, inside:true, length:11, customValues:histYTicks, lineStyle:tickStyle},
      axisLabel:{...labelStyle, margin:9, customValues:histYTicks,
        formatter:v => v === 0 ? '{z|0}' : String(v),
        rich:{z:{...labelStyle, padding:[0,0,12,0]}}}},
    {gridIndex:0, type:'value', position:'right', ...yHist, axisLine:noLine, splitLine:hidden, axisLabel:hidden,
      axisTick:{show:true, inside:true, length:10, customValues:histYTicks, lineStyle:tickStyle}},
    {gridIndex:1, type:'value', position:'right', ...yScat, axisLine:noLine, splitLine:hidden,
      axisTick:{show:true, inside:true, length:11, customValues:scatYMajorTicks, lineStyle:tickStyle},
      axisLabel:{...labelStyle, margin:4, customValues:scatYMajorTicks}},
    {gridIndex:1, type:'value', position:'right', ...yScat, axisLine:noLine, splitLine:hidden, axisLabel:hidden,
      axisTick:{show:true, inside:true, length:5, customValues:scatYMinorTicks, lineStyle:tickStyle}},
    {gridIndex:1, type:'value', position:'left', ...yScat, axisLine:noLine, splitLine:hidden, axisLabel:hidden,
      axisTick:{show:true, inside:true, length:11, customValues:scatYMajorTicks, lineStyle:tickStyle}},
    {gridIndex:1, type:'value', position:'left', ...yScat, axisLine:noLine, splitLine:hidden, axisLabel:hidden,
      axisTick:{show:true, inside:true, length:5, customValues:scatYMinorTicks, lineStyle:tickStyle}}
  ],
  series:[
    {type:'custom', xAxisIndex:0, yAxisIndex:0, silent:true,
      data: histBinCenters.map((c, i) => [c, histCounts[i]]),
      renderItem:(params, api) => {
        const c = api.value(0), n = api.value(1);
        const a = api.coord([c - histBinWidth / 2, n]);
        const b = api.coord([c + histBinWidth / 2, 0]);
        return {type:'rect', shape:{x:a[0] + 0.65, y:a[1], width:b[0] - a[0] - 1.3, height:b[1] - a[1]}, style:{fill:BLACK}};
      }},
    {type:'scatter', xAxisIndex:3, yAxisIndex:2, silent:true, symbol:'rect', symbolSize:3.0, large:false,
      itemStyle:{color:BLACK}, data:[].concat(scatA, scatB, scatC, scatD, scatE)},
    {type:'scatter', xAxisIndex:3, yAxisIndex:2, silent:true, symbol:'rect', symbolSize:3.9, large:false,
      itemStyle:{color:BLACK}, data:[].concat(scatF, scatG)},
    {type:'line', xAxisIndex:3, yAxisIndex:2, silent:true, symbol:'none', data:zeroLine,
      lineStyle:{color:BLACK, width:1.3, type:'solid'}},
    {type:'line', xAxisIndex:3, yAxisIndex:2, silent:true, symbol:'none', data:fitLine,
      lineStyle:{color:BLACK, width:1.6, type:[10,7]}}
  ],
  graphic:graphics
};
const chart = echarts.init(document.getElementById('c'), null, {renderer:'canvas'});
chart.setOption(option);
</script></body></html>
